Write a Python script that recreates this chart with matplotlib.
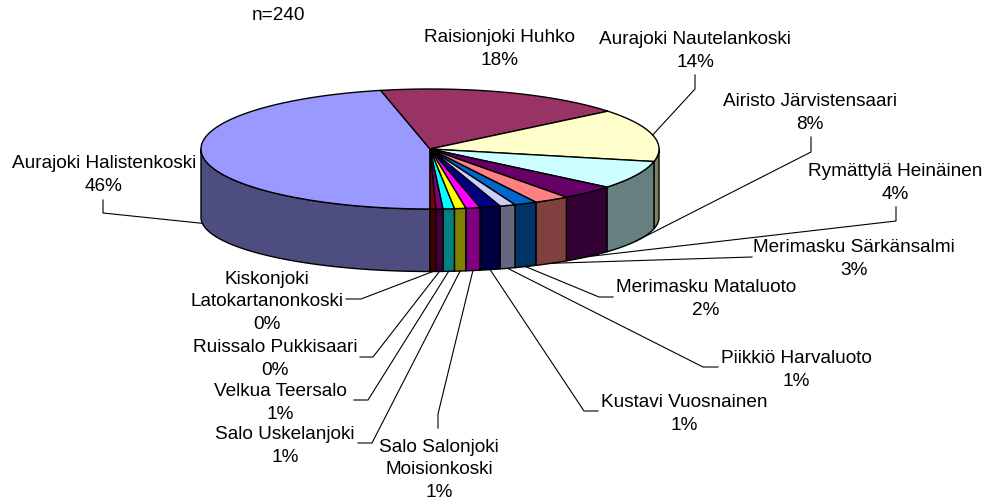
# 3D style pie of sampling sites, drawn by hand since matplotlib has no pseudo-3D pie
import numpy as np
import matplotlib as mp
mp.use('agg')
import matplotlib.pyplot as plt

sites = ['Aurajoki Halistenkoski', 'Raisionjoki Huhko', 'Aurajoki Nautelankoski',
         'Airisto Järvistensaari', 'Rymättylä Heinäinen', 'Merimasku Särkänsalmi',
         'Merimasku Mataluoto', 'Piikkiö Harvaluoto', 'Kustavi Vuosnainen',
         'Salo Salonjoki\nMoisionkoski', 'Salo Uskelanjoki', 'Velkua Teersalo',
         'Ruissalo Pukkisaari', 'Kiskonjoki\nLatokartanonkoski']
shares = [46.55, 17.6, 14.2, 7.6, 3.9, 2.5, 1.6, 1.1, 1.45, 1.0, 0.8, 0.8, 0.49, 0.41]
pct_labels = ['46%', '18%', '14%', '8%', '4%', '3%', '2%', '1%', '1%', '1%', '1%', '1%', '0%', '0%']
colors = ['#9999FF', '#993366', '#FFFFCC', '#CCFFFF', '#660066', '#FF8080', '#0066CC',
          '#CCCCFF', '#000080', '#FF00FF', '#FFFF00', '#00FFFF', '#800080', '#800000']

# layout in pixels
CX, CY, RX, RY = 430, 150, 229, 60
CY_LOW, RY_LOW = 218.5, 54
FONT = 13.7

label_pos = [(104, 175), (499, 49), (695, 51), (810, 113), (895, 183), (854, 259), (706, 299),
             (796, 370), (684, 414), (439, 470), (285, 446), (280, 403), (275, 359), (267, 302)]
# label side of the leader line, pie end is worked out from the slice
leader_pts = [[(103, 201), (103, 214)], None, [(695, 76), (695, 90)], [(811, 138), (811, 153)],
              [(896, 208), (896, 222)], [(752, 258)], [(613, 298), (599, 298)],
              [(718, 368), (703, 368)], [(598, 412), (584, 412)], [(438, 429), (438, 415)],
              [(358, 444), (372, 444)], [(354, 401), (368, 401)], [(360, 358), (373, 358)],
              [(346, 300), (361, 300)]]


def top_xy(t):
    return CX + RX * np.sin(t), CY - RY * np.cos(t)


def low_xy(t):
    return CX + RX * np.sin(t), CY_LOW - RY_LOW * np.cos(t)


def main():
    fig = plt.figure(figsize=(9.88, 5.02), dpi=100)
    ax = fig.add_axes([0, 0, 1, 1])
    ax.set_xlim(0, 988)
    ax.set_ylim(502, 0)
    ax.axis('off')
    plt.rcParams['font.family'] = ['Liberation Sans', 'DejaVu Sans']

    # slices run clockwise from 6 o'clock, angles in degrees clockwise from the top
    vals = np.array(shares)
    starts = 180 + np.concatenate([[0], np.cumsum(vals)[:-1]]) / vals.sum() * 360
    ends = 180 + np.cumsum(vals) / vals.sum() * 360

    # side wall, only the front half (90-270 deg) can be seen
    for s, e, c in zip(starts, ends, colors):
        for a, b in [(s, e), (s - 360, e - 360)]:
            a, b = max(a, 90), min(b, 270)
            if b <= a:
                continue
            t = np.radians(np.linspace(a, b, 80))
            x1, y1 = top_xy(t)
            x2, y2 = low_xy(t[::-1])
            dark = tuple(v * 0.5 for v in mp.colors.to_rgb(c))
            ax.fill(np.r_[x1, x2], np.r_[y1, y2], facecolor=dark, edgecolor='black',
                    linewidth=1.0, joinstyle='round', zorder=2)

    # top face
    for s, e, c in zip(starts, ends, colors):
        t = np.radians(np.linspace(s, e, 200))
        x, y = top_xy(t)
        ax.fill(np.r_[CX, x], np.r_[CY, y], facecolor=c, edgecolor='black',
                linewidth=1.0, joinstyle='round', zorder=3)

    # leader lines and labels
    for i, name in enumerate(sites):
        mid = np.radians((starts[i] + ends[i]) / 2)
        if leader_pts[i] is not None:
            # slices on the back half of the pie meet the line at the top rim
            px, py = top_xy(mid) if np.cos(mid) > 0 else low_xy(mid)
            xs = [p[0] for p in leader_pts[i]] + [px]
            ys = [p[1] for p in leader_pts[i]] + [py]
            ax.plot(xs, ys, color='black', linewidth=0.8, zorder=4)
        lx, ly = label_pos[i]
        ax.text(lx, ly, name + '\n' + pct_labels[i], ha='center', va='center',
                fontsize=FONT, linespacing=1.43, color='black', zorder=5)

    ax.text(278, 16, 'n=240', ha='center', va='center', fontsize=FONT, color='black')

    plt.savefig('out.png', dpi=100)


if __name__ == '__main__':
    main()
